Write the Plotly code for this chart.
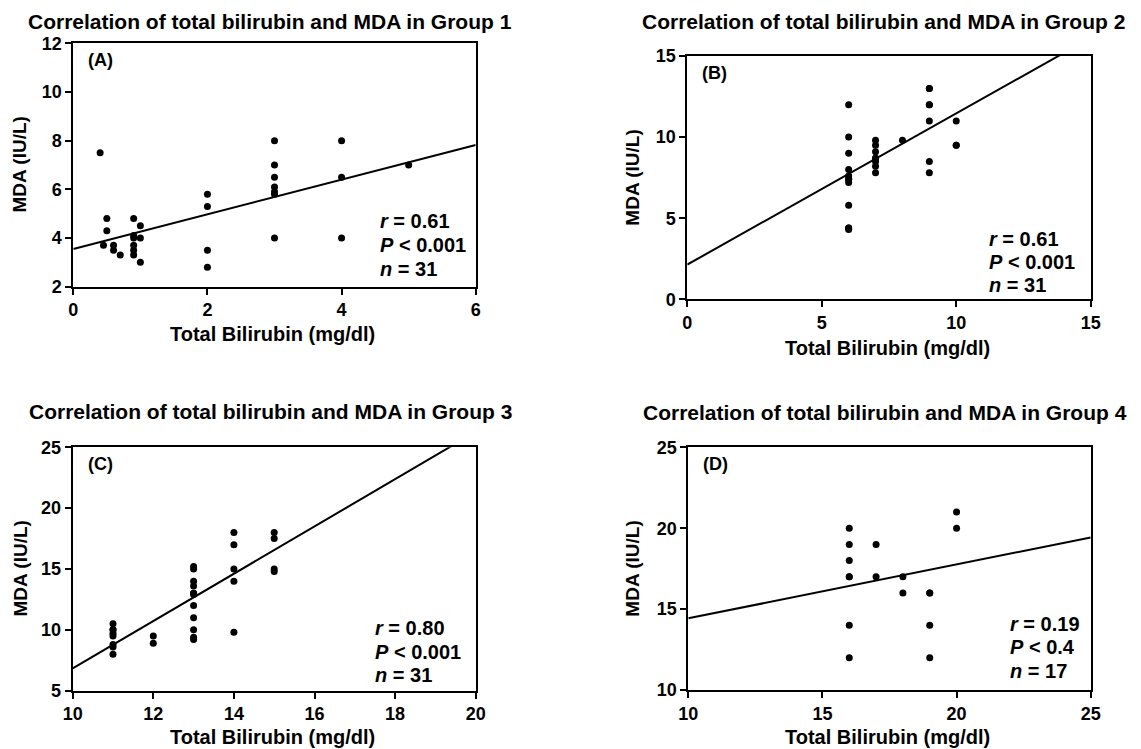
import plotly.graph_objects as go

W, H = 1141, 749
FONT = "Liberation Sans, Arial, sans-serif"

# ---------------- data ----------------
titles = [
    "Correlation of total bilirubin and MDA in Group 1",
    "Correlation of total bilirubin and MDA in Group 2",
    "Correlation of total bilirubin and MDA in Group 3",
    "Correlation of total bilirubin and MDA in Group 4",
]
panel_labels = ["(A)", "(B)", "(C)", "(D)"]
x_label = "Total Bilirubin (mg/dl)"
y_label = "MDA (IU/L)"

g1_bili = [0.4, 0.45, 0.5, 0.5, 0.6, 0.6, 0.7, 0.9, 0.9, 0.9, 0.9, 0.9, 0.9,
           1.0, 1.0, 1.0, 2, 2, 2, 2, 3, 3, 3, 3, 3, 3, 3, 4, 4, 4, 5]
g1_mda = [7.5, 3.7, 4.8, 4.3, 3.7, 3.5, 3.3, 4.8, 4.1, 4.0, 3.7, 3.5, 3.3,
          4.5, 4.0, 3.0, 5.8, 5.3, 3.5, 2.8, 8.0, 7.0, 6.5, 6.1, 5.9, 5.8, 4.0, 8.0, 6.5, 4.0, 7.0]

g2_bili = [6, 6, 6, 6, 6, 6, 6, 6, 6, 6, 6, 7, 7, 7, 7, 7, 7, 7, 7,
           8, 9, 9, 9, 9, 9, 9, 9, 10, 10, 10, 6]
g2_mda = [12.0, 10.0, 9.0, 8.0, 7.6, 7.4, 7.2, 5.8, 4.4, 4.3, 7.4, 9.8, 9.5, 9.1, 8.7, 8.5, 8.2, 7.8, 8.7,
          9.8, 13.0, 12.0, 12.0, 11.0, 8.5, 7.8, 13.0, 11.0, 9.5, 9.5, 4.4]

g3_bili = [11, 11, 11, 11, 11, 11, 11, 12, 12, 13, 13, 13, 13, 13, 13, 13, 13, 13, 13, 13,
           14, 14, 14, 14, 14, 15, 15, 15, 15, 13, 11]
g3_mda = [10.5, 10.0, 9.7, 9.5, 8.8, 8.6, 8.0, 9.5, 8.9, 15.2, 15.0, 14.0, 13.6, 13.0, 12.9, 12.0, 11.0, 10.0, 9.4, 9.2,
          18.0, 17.0, 15.0, 14.0, 9.8, 18.0, 17.5, 15.0, 14.8, 13.0, 10.0]

g4_bili = [16, 16, 16, 16, 16, 16, 17, 17, 18, 18, 19, 19, 19, 20, 20, 16, 19]
g4_mda = [20, 19, 18, 17, 14, 12, 19, 17, 17, 16, 16, 14, 12, 21, 20, 17, 16]

fit_intercept = [3.55, 2.14, -12.59, 11.10]
fit_slope = [0.712, 0.932, 1.943, 0.333]

stat_r = ["0.61", "0.61", "0.80", "0.19"]
stat_p = ["0.001", "0.001", "0.001", "0.4"]
stat_n = ["31", "31", "31", "17"]

x_ranges = [[0, 6], [0, 15], [10, 20], [10, 25]]
y_ranges = [[2, 12], [0, 15], [5, 25], [10, 25]]
x_ticks = [[0, 2, 4, 6], [0, 5, 10, 15], [10, 12, 14, 16, 18, 20], [10, 15, 20, 25]]
y_ticks = [[2, 4, 6, 8, 10, 12], [0, 5, 10, 15], [5, 10, 15, 20, 25], [10, 15, 20, 25]]

xs = [g1_bili, g2_bili, g3_bili, g4_bili]
ys = [g1_mda, g2_mda, g3_mda, g4_mda]

# ---------------- layout (pixel boxes) ----------------
boxes = [  # left, right, top, bottom in px
    (73.3, 475.7, 43.3, 286.7),
    (687.3, 1090.7, 56.0, 299.3),
    (72.7, 475.7, 447.3, 690.7),
    (688.3, 1090.7, 447.3, 690.0),
]
title_pos = [(270, 21), (883, 21), (270, 411), (885, 413)]
ylab_x = [19.5, 633, 19.5, 633]
xlab_y = [334, 348, 737, 737]
stat_x = [378, 987, 373, 1008]
stat_y = [[221, 245, 269], [239, 262, 285], [628, 652, 675], [624, 647, 671]]

TITLE_SIZE = 21
XLAB_SIZE = 20
YLAB_SIZE = 19
STAT_SIZE = 20
TICK_SIZE = 18


def px(x):
    return x / W


def py(y):
    return 1 - y / H


fig = go.Figure()
annotations = []
layout_axes = {}

for i in range(4):
    l, r, t, b = boxes[i]
    xa = "x" if i == 0 else f"x{i+1}"
    ya = "y" if i == 0 else f"y{i+1}"
    xkey = "xaxis" if i == 0 else f"xaxis{i+1}"
    ykey = "yaxis" if i == 0 else f"yaxis{i+1}"

    fig.add_trace(go.Scatter(
        x=xs[i], y=ys[i], mode="markers", xaxis=xa, yaxis=ya,
        marker=dict(color="black", size=7, line=dict(width=0)),
        showlegend=False, hoverinfo="x+y"))

    x0, x1 = x_ranges[i]
    fig.add_trace(go.Scatter(
        x=[x0, x1],
        y=[fit_intercept[i] + fit_slope[i] * x0, fit_intercept[i] + fit_slope[i] * x1],
        mode="lines", xaxis=xa, yaxis=ya,
        line=dict(color="black", width=2), showlegend=False, hoverinfo="skip"))

    axis_common = dict(
        showline=True, mirror=True, linecolor="black", linewidth=2,
        ticks="outside", ticklen=6, tickwidth=2, tickcolor="black",
        showgrid=False, zeroline=False, fixedrange=True, automargin=False,
        tickmode="array",
        tickfont=dict(family=FONT, size=TICK_SIZE, color="black"),
    )
    layout_axes[xkey] = dict(axis_common, domain=[px(l), px(r)], range=x_ranges[i],
                             tickvals=x_ticks[i],
                             ticktext=[f"<b>{v}</b>" for v in x_ticks[i]], anchor=ya)
    layout_axes[ykey] = dict(axis_common, domain=[py(b), py(t)], range=y_ranges[i],
                             tickvals=y_ticks[i],
                             ticktext=[f"<b>{v}</b>" for v in y_ticks[i]], anchor=xa)

    # title
    annotations.append(dict(
        text=f"<b>{titles[i]}</b>", x=px(title_pos[i][0]), y=py(title_pos[i][1]),
        xref="paper", yref="paper", xanchor="center", yanchor="middle",
        showarrow=False, font=dict(family=FONT, size=TITLE_SIZE, color="black")))
    # y label
    annotations.append(dict(
        text=f"<b>{y_label}</b>", x=px(ylab_x[i]), y=py((t + b) / 2),
        xref="paper", yref="paper", xanchor="center", yanchor="middle", textangle=-90,
        showarrow=False, font=dict(family=FONT, size=YLAB_SIZE, color="black")))
    # x label
    annotations.append(dict(
        text=f"<b>{x_label}</b>", x=px((l + r) / 2 - 2), y=py(xlab_y[i]),
        xref="paper", yref="paper", xanchor="center", yanchor="middle",
        showarrow=False, font=dict(family=FONT, size=XLAB_SIZE, color="black")))
    # panel label
    annotations.append(dict(
        text=f"<b>{panel_labels[i]}</b>", x=px(l + 13), y=py(t + 17),
        xref="paper", yref="paper", xanchor="left", yanchor="middle",
        showarrow=False, font=dict(family=FONT, size=18, color="black")))
    # stats (one line each)
    lines = [f"<b><i>r</i> = {stat_r[i]}</b>",
             f"<b><i>P</i> &lt; {stat_p[i]}</b>",
             f"<b><i>n</i> = {stat_n[i]}</b>"]
    for k, txt in enumerate(lines):
        annotations.append(dict(
            text=txt, x=px(stat_x[i]), y=py(stat_y[i][k]),
            xref="paper", yref="paper", xanchor="left", yanchor="middle", align="left",
            showarrow=False, font=dict(family=FONT, size=STAT_SIZE, color="black")))

fig.update_layout(
    width=W, height=H, margin=dict(l=0, r=0, t=0, b=0),
    paper_bgcolor="white", plot_bgcolor="white",
    annotations=annotations, showlegend=False,
    **layout_axes,
)

fig.write_html(
    "out.html", include_plotlyjs=True, config={"displayModeBar": False},
    post_script="document.body.style.margin='0';document.body.style.overflow='hidden';",
)
